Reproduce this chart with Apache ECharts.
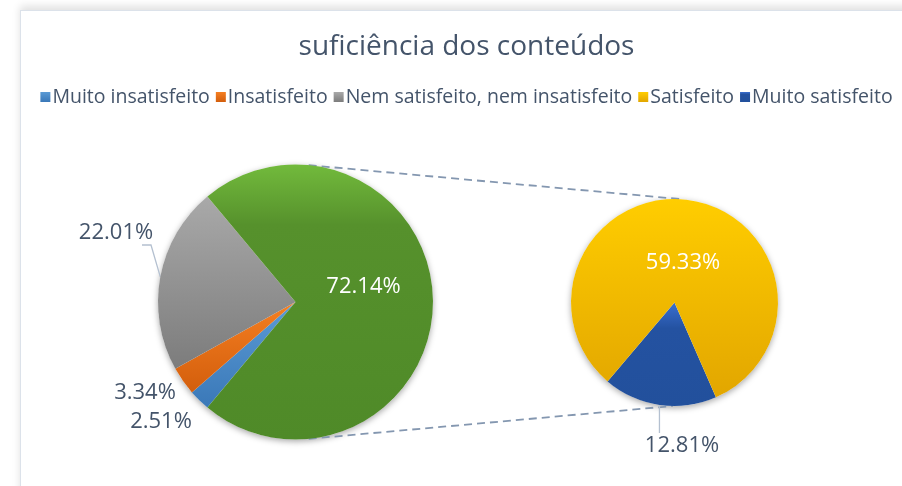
<!DOCTYPE html>
<html>
<head>
<meta charset="utf-8">
<script src="https://cdn.jsdelivr.net/npm/echarts@6/dist/echarts.min.js"></script>
<style>
  html, body { margin: 0; padding: 0; width: 902px; height: 486px; overflow: hidden; background: #fff; }
  .frame {
    position: absolute; left: 20px; top: 10px; width: 900px; height: 490px;
    border-left: 1px solid #DCE2EA; border-top: 1px solid #DCE2EA;
    box-shadow: 0 -4px 8px rgba(0, 0, 0, 0.12);
    background: #fff;
  }
  #chart { position: absolute; left: 0; top: 0; width: 891px; height: 475px; }
</style>
</head>
<body>
<div class="frame"><div id="chart"></div></div>
<script>
// valores do gráfico (percentagens)
const mainNames = ['Muito insatisfeito', 'Insatisfeito', 'Nem satisfeito, nem insatisfeito', 'Outro']
const mainValues = [2.51, 3.34, 22.01, 72.14]
const subNames = ['Muito satisfeito', 'Satisfeito']
const subValues = [12.81, 59.33]
const legendNames = ['Muito insatisfeito', 'Insatisfeito', 'Nem satisfeito, nem insatisfeito', 'Satisfeito', 'Muito satisfeito']

const textColor = '#44546A'
const fontFamily = '"Open Sans", "Noto Sans", sans-serif'

// geometria das duas tartes
const mainCenter = [274.5, 291]
const mainRadius = 137.5
const subCenter = [653.5, 291.5]
const subRadius = 103.5

const grad = (stops) => new echarts.graphic.LinearGradient(0, 0, 0, 1,
  stops.map((c, i) => ({ offset: i / (stops.length - 1), color: c })))

const colors = {
  'Muito insatisfeito': grad(['#5B9BD5', '#3A78B8']),
  'Insatisfeito': grad(['#F57F22', '#D35E0C']),
  'Nem satisfeito, nem insatisfeito': grad(['#A9A9A9', '#7C7C7C']),
  'Outro': new echarts.graphic.LinearGradient(0, 0, 0, 1, [
    { offset: 0, color: '#72BA3C' }, { offset: 0.22, color: '#56912C' }, { offset: 1, color: '#4F8A28' }
  ]),
  'Satisfeito': grad(['#FFCD00', '#E2A600']),
  'Muito satisfeito': new echarts.graphic.LinearGradient(0, 0, 0, 1, [
    { offset: 0, color: '#3A6FD0' }, { offset: 0.25, color: '#2452A1' }, { offset: 1, color: '#22509C' }
  ])
}

// posição dos rótulos, relativa ao centro de cada tarte
const labelPos = {
  'Outro': [68, -15],
  'Nem satisfeito, nem insatisfeito': [-179.5, -69],
  'Insatisfeito': [-150.5, 91],
  'Muito insatisfeito': [-134.5, 120],
  'Satisfeito': [8.5, -39.5],
  'Muito satisfeito': [7.5, 143.5]
}
const insideNames = ['Outro', 'Satisfeito']

const makeData = (names, values) => names.map((n, i) => ({
  name: n,
  value: values[i],
  itemStyle: { color: colors[n] },
  label: {
    color: insideNames.includes(n) ? '#fff' : textColor
  },
  labelLine: { show: n === 'Nem satisfeito, nem insatisfeito' || n === 'Muito satisfeito' }
}))

const layoutFor = (names, center) => (params) => {
  const name = names[params.dataIndex]
  const p = labelPos[name]
  const x = center[0] + p[0]
  const y = center[1] + p[1]
  const out = { x, y, align: 'center', verticalAlign: 'middle' }
  const lp = params.labelLinePoints
  if (lp && name === 'Nem satisfeito, nem insatisfeito') {
    const s = lp[0]
    out.labelLinePoints = [[s[0], s[1]], [x + 35, y + 12], [x + 26, y + 12]]
  } else if (lp && name === 'Muito satisfeito') {
    const s = lp[0]
    out.labelLinePoints = [[s[0], s[1]], [s[0], y - 13], [s[0], y - 13]]
  }
  return out
}

// linhas de ligação entre as tartes
const pt = (c, r, deg) => [c[0] + r * Math.cos(deg * Math.PI / 180), c[1] - r * Math.sin(deg * Math.PI / 180)]
const topA = pt(mainCenter, mainRadius, 84.5)
const topB = pt(subCenter, subRadius, 85)
const botA = pt(mainCenter, mainRadius, -84.5)
const botB = pt(subCenter, subRadius, -91)

const nonOther = (mainValues[0] + mainValues[1] + mainValues[2]) / 100 * 360

const chart = echarts.init(document.getElementById('chart'))
chart.setOption({
  animation: false,
  title: {
    text: 'suficiência dos conteúdos',
    left: 'center',
    top: 17,
    textStyle: { color: textColor, fontSize: 28, fontWeight: 'normal', fontFamily }
  },
  legend: {
    data: legendNames,
    top: 71,
    left: 'center',
    icon: 'rect',
    itemWidth: 10,
    itemHeight: 10,
    itemGap: 6,
    textStyle: { color: textColor, fontSize: 19.5, fontFamily, padding: [0, 0, 0, -3] }
  },
  graphic: [
    { type: 'circle', silent: true, z: 0, shape: { cx: mainCenter[0], cy: mainCenter[1], r: mainRadius },
      style: { fill: '#fff', shadowBlur: 6, shadowOffsetY: 2, shadowColor: 'rgba(0,0,0,0.35)' } },
    { type: 'circle', silent: true, z: 0, shape: { cx: subCenter[0], cy: subCenter[1], r: subRadius },
      style: { fill: '#fff', shadowBlur: 6, shadowOffsetY: 2, shadowColor: 'rgba(0,0,0,0.35)' } },
    { type: 'line', silent: true, z: 0, shape: { x1: topA[0], y1: topA[1], x2: topB[0], y2: topB[1] },
      style: { stroke: '#8497B0', lineWidth: 1.8, lineDash: [8, 5] } },
    { type: 'line', silent: true, z: 0, shape: { x1: botA[0], y1: botA[1], x2: botB[0], y2: botB[1] },
      style: { stroke: '#8497B0', lineWidth: 1.8, lineDash: [8, 5] } }
  ],
  series: [
    {
      type: 'pie',
      center: mainCenter,
      radius: mainRadius,
      startAngle: 180 + nonOther / 2,
      clockwise: true,
      avoidLabelOverlap: false,
      label: {
        show: true,
        formatter: (p) => p.value.toFixed(2) + '%',
        fontSize: 22,
        fontFamily
      },
      labelLine: { lineStyle: { color: '#B4C0D0', width: 1.3 } },
      labelLayout: layoutFor(mainNames, mainCenter),
      data: makeData(mainNames, mainValues)
    },
    {
      type: 'pie',
      center: subCenter,
      radius: subRadius,
      startAngle: 293.6,
      clockwise: true,
      avoidLabelOverlap: false,
      label: {
        show: true,
        formatter: (p) => p.value.toFixed(2) + '%',
        fontSize: 22,
        fontFamily
      },
      labelLine: { lineStyle: { color: '#B4C0D0', width: 1.3 } },
      labelLayout: layoutFor(subNames, subCenter),
      data: makeData(subNames, subValues)
    }
  ]
})
</script>
</body>
</html>
